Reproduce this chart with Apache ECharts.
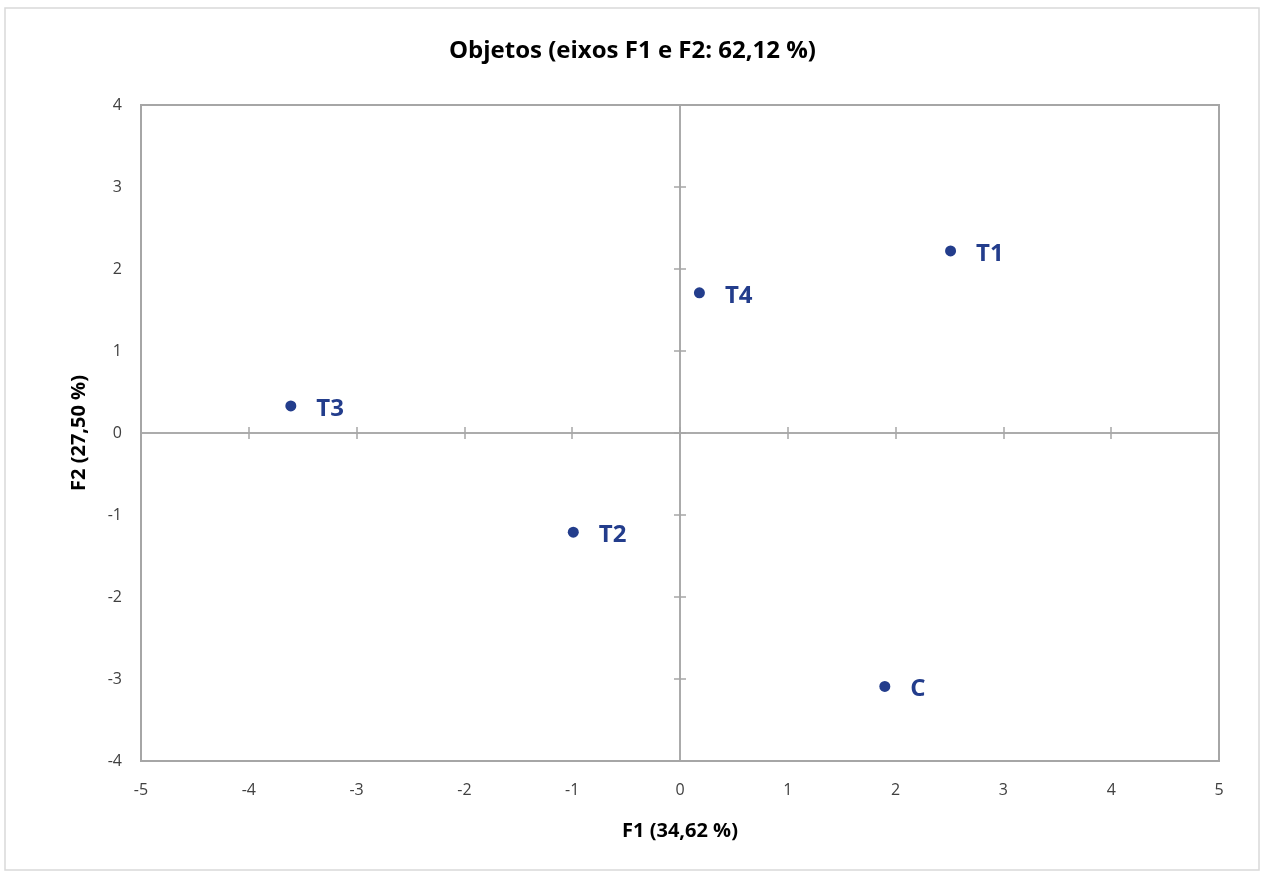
<!DOCTYPE html>
<html>
<head>
<meta charset="utf-8">
<script src="https://cdn.jsdelivr.net/npm/echarts@6/dist/echarts.min.js"></script>
<style>
html,body{margin:0;padding:0;background:#fff;}
#chart{width:1265px;height:876px;}
</style>
</head>
<body>
<div id="chart"></div>
<script>
const objectNames = ['T1', 'T4', 'T3', 'T2', 'C'];
const f1Values = [2.51, 0.18, -3.61, -0.99, 1.90];
const f2Values = [2.22, 1.71, 0.33, -1.21, -3.09];
const titleText = 'Objetos (eixos F1 e F2: 62,12 %)';
const xAxisName = 'F1 (34,62 %)';
const yAxisName = 'F2 (27,50 %)';

const FONT = '"Open Sans", "Liberation Sans", sans-serif';
const pointColor = '#233d8c';
const axisGray = '#a6a6a6';

const chart = echarts.init(document.getElementById('chart'));
const data = objectNames.map((n, i) => ({ name: n, value: [f1Values[i], f2Values[i]] }));

const gridPos = { left: 141, top: 105, width: 1078, height: 656 };

function labelAxis(extra) {
  return Object.assign({
    type: 'value', min: -5, max: 5, interval: 1,
    axisLine: { show: false, onZero: false },
    axisTick: { show: false },
    splitLine: { show: false }
  }, extra);
}
function zeroAxis(min, max, inside) {
  return {
    type: 'value', min: min, max: max, interval: 1,
    axisLine: { show: true, onZero: true, lineStyle: { color: axisGray, width: 1.5 } },
    axisTick: { show: true, inside: inside, length: 6, lineStyle: { color: axisGray, width: 1.5 } },
    axisLabel: { show: false },
    splitLine: { show: false }
  };
}

chart.setOption({
  animation: false,
  backgroundColor: '#fff',
  title: {
    text: titleText, left: 'center', top: 34,
    textStyle: { fontFamily: FONT, fontSize: 24, fontWeight: 'bold', color: '#000' }
  },
  graphic: [{
    type: 'rect', shape: { x: 5, y: 8, width: 1254, height: 862 },
    style: { fill: 'none', stroke: '#d9d9d9', lineWidth: 1.5 }, silent: true, z: -1
  }],
  grid: Object.assign({ show: true, borderColor: axisGray, borderWidth: 2, backgroundColor: '#fff' }, gridPos),
  xAxis: [
    labelAxis({
      position: 'bottom', axisLabel: { color: '#404040', fontSize: 16, fontFamily: FONT, margin: 21 },
      name: xAxisName, nameLocation: 'middle', nameGap: 60,
      nameTextStyle: { fontFamily: FONT, fontSize: 20, fontWeight: 'bold', color: '#000' }
    }),
    zeroAxis(-5, 5, true),
    zeroAxis(-5, 5, false)
  ],
  yAxis: [
    labelAxis({
      min: -4, max: 4, position: 'left',
      axisLabel: { color: '#404040', fontSize: 16, fontFamily: FONT, margin: 19 },
      name: yAxisName, nameLocation: 'middle', nameGap: 52, nameRotate: 90,
      nameTextStyle: { fontFamily: FONT, fontSize: 20, fontWeight: 'bold', color: '#000' }
    }),
    zeroAxis(-4, 4, true),
    zeroAxis(-4, 4, false)
  ],
  series: [{
    type: 'scatter',
    xAxisIndex: 0, yAxisIndex: 0,
    data: data,
    symbol: 'circle', symbolSize: 11,
    itemStyle: { color: pointColor, opacity: 1 },
    label: {
      show: true, position: 'right', distance: 20, offset: [0, 3],
      formatter: '{b}', color: pointColor,
      fontFamily: FONT, fontSize: 24, fontWeight: 'bold'
    },
    z: 5
  }]
});
</script>
</body>
</html>
